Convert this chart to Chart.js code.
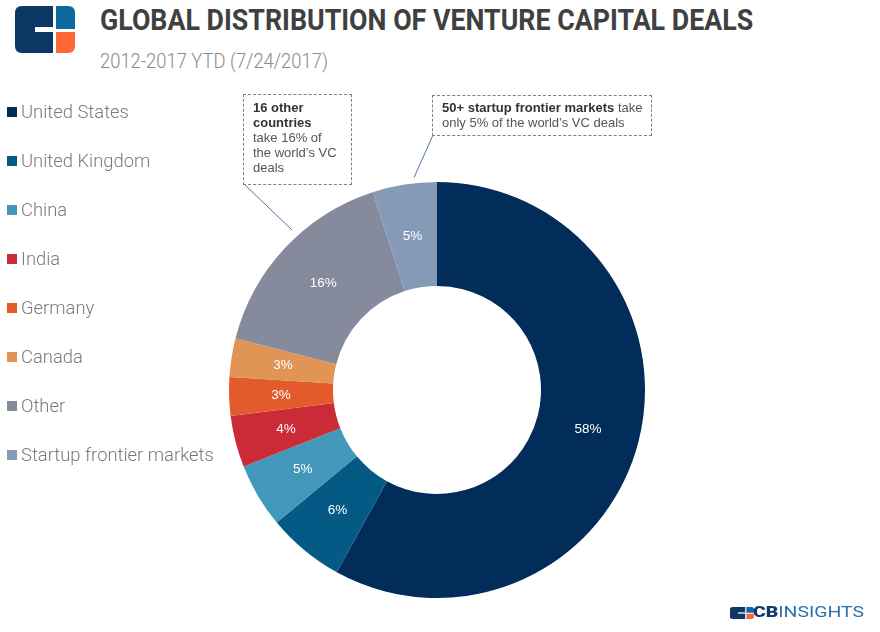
<!DOCTYPE html>
<html>
<head>
<meta charset="utf-8">
<script src="https://cdn.jsdelivr.net/npm/chart.js@4.4.1/dist/chart.umd.min.js"></script>
<style>
  html, body { margin: 0; padding: 0; background: #fff; }
  body { width: 880px; height: 632px; position: relative; overflow: hidden; font-family: Roboto, sans-serif; }
  #chart { position: absolute; left: 0; top: 0; }
  .fit { position: absolute; white-space: nowrap; transform-origin: 0 0; }
  #title { left: 100px; top: 6px; font: 700 29px/29px Roboto, sans-serif; color: #404040; }
  #subtitle { left: 100px; top: 51px; font: 300 20px/20px Roboto, sans-serif; color: #8a8a8a; }
  .legend-row { position: absolute; left: 7px; height: 20px; display: flex; align-items: center;
    font: 300 18.4px/20px Roboto, sans-serif; color: #7a7a7a; white-space: nowrap; }
  .legend-row i { display: inline-block; width: 10px; height: 10px; margin-right: 4px; }
  .callout { position: absolute; box-sizing: border-box; border: 1px dashed #808080;
    font: 13px/15px "Liberation Sans", Arial, sans-serif; color: #555; }
  .callout b { color: #333; }
  #footer { left: 753px; top: 604px; font: 400 14px/16px Roboto, sans-serif; color: #2a72ad; }
  #footer b { color: #0c3a6b; font-weight: 900; }
</style>
</head>
<body>
<svg width="80" height="60" style="position:absolute;left:0;top:0">
  <path d="M22,6 H53 V53 H22 Q15,53 15,46 V13 Q15,6 22,6 Z" fill="#0d3764"/>
  <rect x="35" y="27" width="18" height="5" fill="#fff"/>
  <path d="M56,6 H68 Q75,6 75,13 V29 H56 Z" fill="#0d6aa0"/>
  <path d="M56,32 H75 V46 Q75,53 68,53 H56 Z" fill="#fd6835"/>
</svg>
<div id="title" class="fit">GLOBAL DISTRIBUTION OF VENTURE CAPITAL DEALS</div>
<div id="subtitle" class="fit">2012-2017 YTD (7/24/2017)</div>

<canvas id="chart" width="880" height="632"></canvas>
<div id="legend"></div>

<div class="callout" style="left:243px;top:94px;width:109px;height:91px;padding:5px 0 0 9px">
  <b>16 other<br>countries</b><br>take 16% of<br>the world’s VC<br>deals
</div>
<div class="callout" style="left:432px;top:95px;width:220px;height:41px;padding:4px 0 0 9px">
  <b>50+ startup frontier markets</b> take<br>only 5% of the world’s VC deals
</div>

<svg width="24" height="12" viewBox="0 0 60 47" preserveAspectRatio="none" style="position:absolute;left:730px;top:607px">
  <path d="M7,0 H38 V47 H7 Q0,47 0,40 V7 Q0,0 7,0 Z" fill="#0d3764"/>
  <rect x="20" y="21" width="18" height="5" fill="#fff"/>
  <path d="M41,0 H53 Q60,0 60,7 V23 H41 Z" fill="#0d6aa0"/>
  <path d="M41,26 H60 V40 Q60,47 53,47 H41 Z" fill="#fd6835"/>
</svg>
<div id="footer" class="fit"><b>CB</b>INSIGHTS</div>

<script>
const countries = ['United States', 'United Kingdom', 'China', 'India', 'Germany', 'Canada', 'Other', 'Startup frontier markets'];
const shares = [58, 6, 5, 4, 3, 3, 16, 5];
const colours = ['#022d5b', '#045985', '#4398ba', '#cb2b37', '#e35a2b', '#e09455', '#858a9c', '#859ab7'];

// stretch or squeeze a text block to the width it has in the picture
function fitWidth(id, w) {
    const el = document.getElementById(id);
    el.style.transform = 'scaleX(' + (w / el.offsetWidth) + ')';
}
fitWidth('title', 653);
fitWidth('subtitle', 228);
fitWidth('footer', 111);

// legend on the left
const legend = document.getElementById('legend');
countries.forEach((name, i) => {
    const row = document.createElement('div');
    row.className = 'legend-row';
    row.style.top = (102 + 49 * i) + 'px';
    row.innerHTML = '<i style="background:' + colours[i] + '"></i>' + name;
    legend.appendChild(row);
});

// percentage text in the middle of each slice
const sliceLabels = {
    id: 'sliceLabels',
    afterDatasetsDraw(chart) {
        const ctx = chart.ctx;
        const meta = chart.getDatasetMeta(0);
        ctx.save();
        ctx.font = '13.5px "Liberation Sans", Arial, sans-serif';
        ctx.fillStyle = '#fff';
        ctx.textAlign = 'center';
        ctx.textBaseline = 'middle';
        meta.data.forEach((arc, i) => {
            const p = arc.tooltipPosition();
            ctx.fillText(shares[i] + '%', p.x, p.y);
        });
        ctx.restore();
    }
};

// thin lines from the dashed boxes to their slices
const leaderLines = {
    id: 'leaderLines',
    afterDraw(chart, args, opts) {
        const ctx = chart.ctx;
        const meta = chart.getDatasetMeta(0);
        ctx.save();
        ctx.strokeStyle = '#4f739b';
        ctx.lineWidth = 1;
        opts.lines.forEach(l => {
            const arc = meta.data[l.index];
            const a = arc.startAngle + (arc.endAngle - arc.startAngle) * l.at;
            const r = arc.outerRadius + l.gap;
            ctx.beginPath();
            ctx.moveTo(l.from[0], l.from[1]);
            ctx.lineTo(arc.x + r * Math.cos(a), arc.y + r * Math.sin(a));
            ctx.stroke();
        });
        ctx.restore();
    }
};

new Chart(document.getElementById('chart'), {
    type: 'doughnut',
    data: {
        labels: countries,
        datasets: [{
            data: shares,
            backgroundColor: colours,
            borderWidth: 0
        }]
    },
    options: {
        responsive: false,
        animation: false,
        events: [],
        cutout: '50%',
        layout: {
            padding: { left: 229, right: 235, top: 182, bottom: 34 }
        },
        plugins: {
            legend: { display: false },
            tooltip: { enabled: false },
            leaderLines: {
                lines: [
                    { index: 6, from: [244, 184], at: 0.58, gap: 8 },
                    { index: 7, from: [433, 135], at: 0.66, gap: 6 }
                ]
            }
        }
    },
    plugins: [sliceLabels, leaderLines]
});
</script>
</body>
</html>
